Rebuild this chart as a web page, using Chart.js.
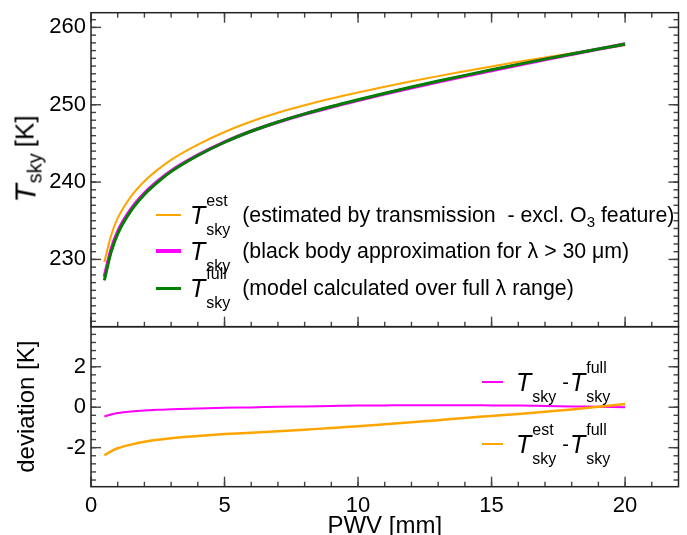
<!DOCTYPE html>
<html><head><meta charset="utf-8">
<script src="https://cdn.jsdelivr.net/npm/chart.js@4.4.0/dist/chart.umd.min.js"></script>
<style>
html,body{margin:0;padding:0;background:#fff;width:687px;height:535px;overflow:hidden;}
body{position:relative;font-family:"Liberation Sans",Arial,Helvetica,sans-serif;color:#000;}
canvas{position:absolute;left:0;}
#c1{top:0;}
#c2{top:320px;}
.row{position:absolute;display:flex;align-items:center;height:46px;white-space:nowrap;}
.sw{display:inline-block;}
.T{font-style:italic;font-size:25px;line-height:25px;}
.ss{display:inline-flex;flex-direction:column;justify-content:space-between;height:46px;font-size:16px;line-height:17px;margin-left:1px;}
.txt{font-size:21.3px;line-height:22px;}
.txt sub{font-size:15px;vertical-align:-5px;line-height:0;}
.dash{font-size:20px;margin:0 1px 0 6px;}
#ytitle{position:absolute;left:25px;top:159px;transform:translate(-50%,-50%) rotate(-90deg);white-space:nowrap;display:flex;align-items:center;}
#ytitle .T{font-size:30px;line-height:30px;}
#ytitle .sb{font-size:20px;position:relative;top:10px;margin-left:1px;}
#ytitle .k{font-size:26px;margin-left:6px;}
</style>
</head><body>
<canvas id="c1" width="687" height="340"></canvas>
<canvas id="c2" width="687" height="215"></canvas>

<div id="ytitle"><span class="T">T</span><span class="sb">sky</span><span class="k">[K]</span></div>

<div class="row" style="left:156px;top:192px;">
  <span class="sw" style="width:25px;height:2px;background:#ffa500;margin-right:9px;"></span>
  <span class="T">T</span><span class="ss"><span>est</span><span>sky</span></span>
  <span class="txt" style="margin-left:12px;">(estimated by transmission &nbsp;- excl. O<sub>3</sub> feature)</span>
</div>
<div class="row" style="left:156px;top:228px;">
  <span class="sw" style="width:25px;height:3.5px;background:#ff00ff;margin-right:9px;"></span>
  <span class="T">T</span><span class="ss"><span>&nbsp;</span><span>sky</span></span>
  <span class="txt" style="margin-left:12px;">(black body approximation for λ &gt; 30 μm)</span>
</div>
<div class="row" style="left:156px;top:265px;">
  <span class="sw" style="width:25px;height:3px;background:#008000;margin-right:9px;"></span>
  <span class="T">T</span><span class="ss"><span>full</span><span>sky</span></span>
  <span class="txt" style="margin-left:12px;">(model calculated over full λ range)</span>
</div>

<div class="row" style="left:482px;top:359px;">
  <span class="sw" style="width:21px;height:2px;background:#ff00ff;margin-right:13px;"></span>
  <span class="T">T</span><span class="ss"><span>&nbsp;</span><span>sky</span></span>
  <span class="dash">-</span><span class="T">T</span><span class="ss"><span>full</span><span>sky</span></span>
</div>
<div class="row" style="left:482px;top:421px;">
  <span class="sw" style="width:21px;height:2.5px;background:#ffa500;margin-right:13px;"></span>
  <span class="T">T</span><span class="ss"><span>est</span><span>sky</span></span>
  <span class="dash">-</span><span class="T">T</span><span class="ss"><span>full</span><span>sky</span></span>
</div>

<script>
// ---- data ----
const pwv      = [0.5, 0.75, 1, 1.5, 2, 2.5, 3, 4, 5, 6, 7, 8, 9, 10, 11, 12, 13, 14, 15, 16, 17, 18, 19, 20];
const tskyFull = [227.3, 230.9, 233.3, 236.3, 238.4, 240.0, 241.35, 243.43, 245.15, 246.57, 247.77, 248.82, 249.77, 250.65, 251.49, 252.29, 253.06, 253.80, 254.52, 255.22, 255.90, 256.56, 257.21, 257.85];
const tskyBB   = [227.76, 231.26, 233.59, 236.51, 238.56, 240.13, 241.45, 243.49, 245.18, 246.58, 247.75, 248.78, 249.71, 250.57, 251.40, 252.19, 252.96, 253.70, 254.43, 255.14, 255.84, 256.52, 257.19, 257.85];
const tskyEst  = [229.68, 233.08, 235.33, 238.15, 240.11, 241.61, 242.88, 244.85, 246.48, 247.83, 248.96, 249.93, 250.80, 251.59, 252.33, 253.03, 253.70, 254.33, 254.95, 255.55, 256.12, 256.67, 257.19, 257.69];
const devBB    = [-0.46, -0.36, -0.29, -0.21, -0.16, -0.13, -0.10, -0.06, -0.03, -0.01, 0.02, 0.04, 0.06, 0.08, 0.09, 0.10, 0.10, 0.10, 0.09, 0.08, 0.06, 0.04, 0.02, 0.00];
const devEst   = [-2.38, -2.18, -2.03, -1.85, -1.71, -1.61, -1.53, -1.42, -1.33, -1.26, -1.19, -1.11, -1.03, -0.94, -0.84, -0.74, -0.64, -0.53, -0.43, -0.33, -0.22, -0.11, 0.02, 0.16];

const xTicks    = [0, 5, 10, 15, 20];
const yTicksTop = [230, 240, 250, 260];
const yTicksDev = [-2, 0, 2];

const FONT = '"Liberation Sans", Arial, Helvetica, sans-serif';
const pts = arr => pwv.map((x, i) => ({x: x, y: arr[i]}));
function range(a, b, s){ const r=[]; for(let v=a; v<=b+1e-9; v+=s) r.push(+v.toFixed(4)); return r; }
function noPad(s){ s.paddingTop = 0; s.paddingBottom = 0; s.paddingLeft = 0; s.paddingRight = 0; }

function makeFrame(cfg) {
  return {
    id: 'frameTicks',
    afterDatasetsDraw(chart) {
      const {ctx, chartArea: a, scales} = chart;
      const xs = scales.x, ys = scales.y;
      ctx.save();
      ctx.fillStyle = '#444';
      const w = 1.4;
      const yT = (vals, len) => vals.forEach(v => { const y = ys.getPixelForValue(v);
        ctx.fillRect(a.left, y - w/2, len, w); ctx.fillRect(a.right - len, y - w/2, len, w); });
      const xT = (vals, len) => vals.forEach(v => { const x = xs.getPixelForValue(v);
        if (cfg.top) ctx.fillRect(x - w/2, a.top, w, len);
        if (cfg.bottom) ctx.fillRect(x - w/2, a.bottom - len, w, len); });
      yT(cfg.yMinor, 5); yT(cfg.yMajor, 10);
      xT(cfg.xMinor, 5); xT(cfg.xMajor, 10);
      ctx.strokeStyle = '#222'; ctx.lineWidth = 1.5;
      ctx.strokeRect(a.left, a.top, a.right - a.left, a.bottom - a.top);
      ctx.restore();
    }
  };
}

const tickFont = {size: 22, family: FONT};
const common = {
  responsive: false, animation: false, devicePixelRatio: 1,
  elements: {point: {radius: 0}, line: {cubicInterpolationMode: 'monotone', fill: false}},
  events: []
};

new Chart(document.getElementById('c1'), {
  type: 'line',
  plugins: [makeFrame({top: true, bottom: true, xMajor: xTicks, xMinor: range(1, 21, 1), yMajor: yTicksTop, yMinor: range(222, 261, 1)})],
  data: {datasets: [
    {label: 'T_sky^full (model calculated over full λ range)', data: pts(tskyFull), borderColor: '#008000', borderWidth: 3},
    {label: 'T_sky (black body approximation for λ > 30 μm)', data: pts(tskyBB), borderColor: '#ff00ff', borderWidth: 3.5},
    {label: 'T_sky^est (estimated by transmission - excl. O3 feature)', data: pts(tskyEst), borderColor: '#ffa500', borderWidth: 2}
  ]},
  options: Object.assign({}, common, {
    layout: {autoPadding: false, padding: {left: 0, right: 8.5, top: 12.7, bottom: 13.3}},
    plugins: {legend: {display: false}, tooltip: {enabled: false}},
    scales: {
      x: {type: 'linear', min: 0, max: 22, display: false, afterFit: noPad},
      y: {type: 'linear', min: 221.3, max: 261.9,
          afterFit(s){ s.width = 91; noPad(s); },
          afterBuildTicks(s){ s.ticks = yTicksTop.map(v => ({value: v})); },
          grid: {display: false, drawTicks: false}, border: {display: false},
          ticks: {padding: 5, color: '#000', font: tickFont}}
    }
  })
});

new Chart(document.getElementById('c2'), {
  type: 'line',
  plugins: [makeFrame({top: false, bottom: true, xMajor: xTicks, xMinor: range(1, 21, 1), yMajor: yTicksDev, yMinor: range(-3.6, 3.6, 0.4)})],
  data: {datasets: [
    {label: 'T_sky^est - T_sky^full', data: pts(devEst), borderColor: '#ffa500', borderWidth: 2.5},
    {label: 'T_sky - T_sky^full', data: pts(devBB), borderColor: '#ff00ff', borderWidth: 2}
  ]},
  options: Object.assign({}, common, {
    layout: {autoPadding: false, padding: {left: 0, right: 8.5, top: 6.7, bottom: 0}},
    plugins: {legend: {display: false}, tooltip: {enabled: false}},
    scales: {
      x: {type: 'linear', min: 0, max: 22,
          afterFit(s){ s.height = 48.3; noPad(s); },
          afterBuildTicks(s){ s.ticks = xTicks.map(v => ({value: v})); },
          grid: {display: false, drawTicks: false}, border: {display: false},
          ticks: {padding: 6, color: '#000', font: tickFont, maxRotation: 0, autoSkip: false},
          title: {display: true, text: 'PWV [mm]', color: '#000', font: {size: 24, family: FONT, lineHeight: 1}, padding: {top: 0, bottom: -3}}},
      y: {type: 'linear', min: -3.93, max: 3.98,
          afterFit(s){ s.width = 91; noPad(s); },
          afterBuildTicks(s){ s.ticks = yTicksDev.map(v => ({value: v})); },
          grid: {display: false, drawTicks: false}, border: {display: false},
          ticks: {padding: 5, color: '#000', font: tickFont},
          title: {display: true, text: 'deviation [K]', color: '#000', font: {size: 24, family: FONT, lineHeight: 1}, padding: {top: 15, bottom: 0}}}
    }
  })
});
</script>
</body></html>
